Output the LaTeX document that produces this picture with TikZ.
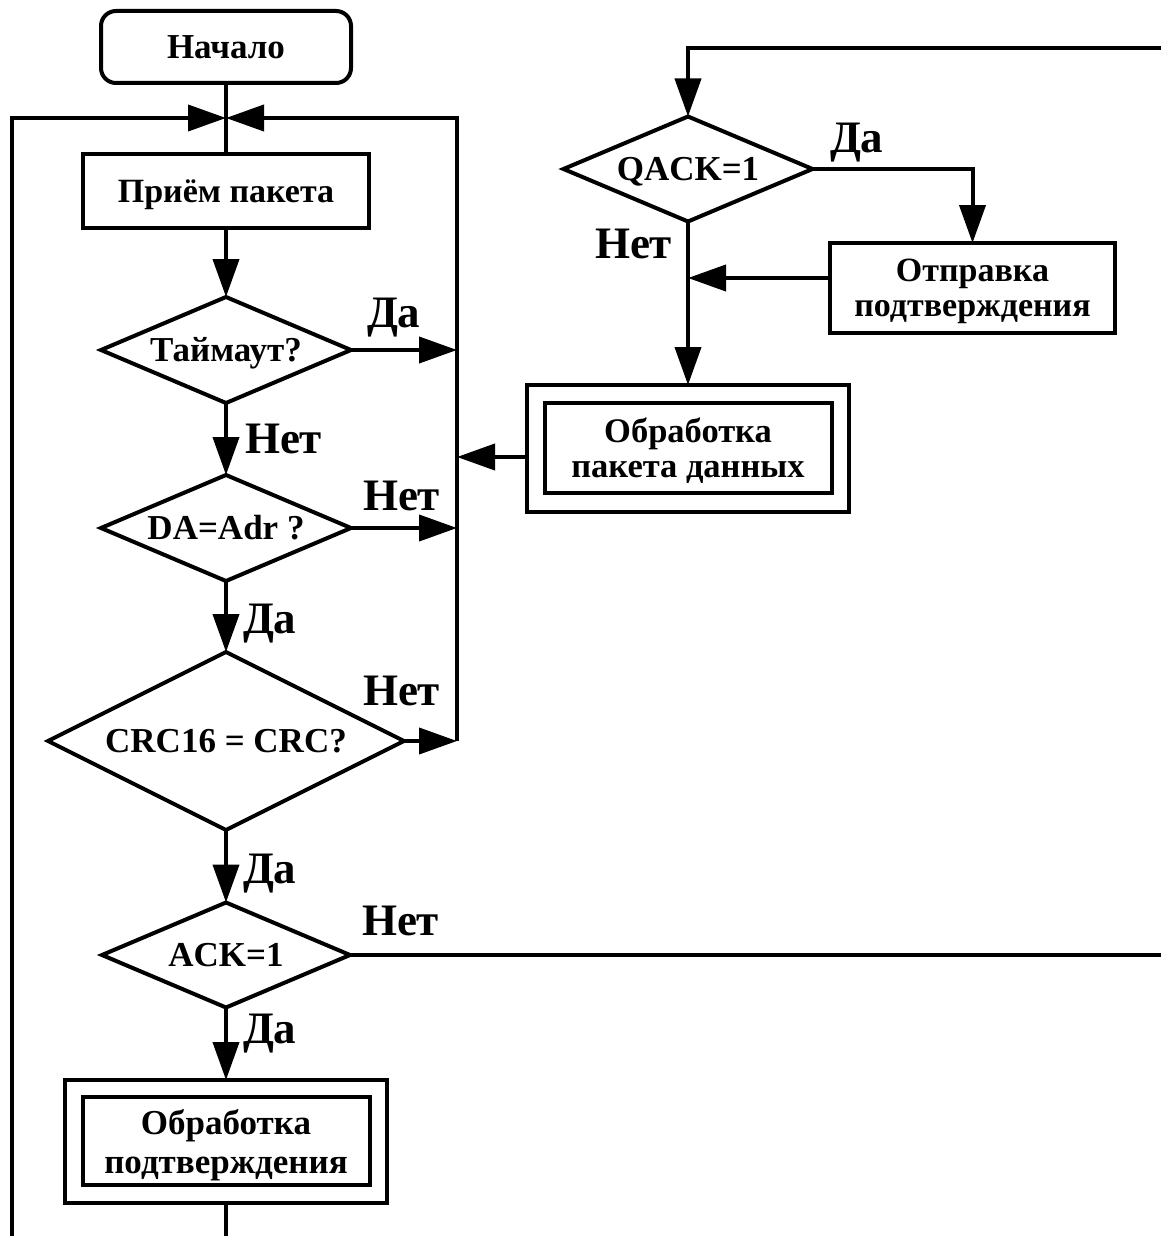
\documentclass[tikz,border=0pt]{standalone}
\usepackage{fontspec}
\setmainfont{Liberation Serif}
\usetikzlibrary{arrows.meta,shapes.geometric}
\begin{document}
\begin{tikzpicture}[x=1pt,y=-1pt,
  line width=4pt,
  every node/.style={inner sep=0pt,outer sep=0pt,font=\bfseries},
  blk/.style={draw,rectangle,align=center},
  dec/.style={draw,diamond,aspect=2.36,text height=23pt,text depth=0pt},
  fs/.style 2 args={font=\bfseries\fontsize{#1}{#2}\selectfont},
  lbl/.style={anchor=base west,font=\bfseries\fontsize{45}{50}\selectfont},
  arr/.style={-{Triangle[length=38pt,width=26pt]}}]
\useasboundingbox (0,0) rectangle (1161,1236);

% main column
\node[blk,rounded corners=15pt,minimum width=250pt,minimum height=72pt,fs={35}{40},text height=23pt,text depth=0pt] (start) at (226,47) {Начало};
\coordinate (merge) at (226,118);
\coordinate (loopL) at (12,118);
\coordinate (loopR) at (457,118);
\coordinate (loopLbot) at (12,1236);
\node[blk,minimum width=286pt,minimum height=74pt,fs={34}{38},text height=22.5pt,text depth=0pt] (recv) at (226,191) {Приём пакета};
\node[dec,minimum width=250pt,minimum height=106pt,fs={35}{40}] (tmo) at (226,350) {Таймаут?};
\node[dec,minimum width=250pt,minimum height=106pt,fs={35}{40}] (da) at (226,528) {DA=Adr ?};
\node[dec,aspect=2,minimum width=356pt,minimum height=178pt,fs={35}{40}] (crc) at (226,741) {CRC16 = CRC?};
\node[dec,minimum width=248pt,minimum height=105pt,fs={35}{40}] (ack) at (226,955) {ACK=1};
\node[blk,minimum width=322pt,minimum height=123pt] (ackproc) at (226,1141.5) {};
\node[blk,minimum width=287pt,minimum height=88pt,fs={35}{39},text depth=0pt] (ackprocin) at (226,1141) {Обработка\\подтверждения};
\coordinate (ackout) at (226,1236);

% right branch
\coordinate (qin) at (1161,48);
\node[dec,minimum width=249pt,minimum height=105pt,fs={35}{40}] (qack) at (688,169) {QACK=1};
\node[blk,minimum width=285pt,minimum height=90pt,fs={34}{35},text depth=0pt] (send) at (972.5,288) {Отправка\\подтверждения};
\node[blk,minimum width=322pt,minimum height=127pt] (dproc) at (688,448.5) {};
\node[blk,minimum width=287pt,minimum height=90pt,fs={34.5}{35},text depth=0pt] (dprocin) at (688,448) {Обработка\\пакета данных};
\coordinate (ackno) at (1161,955);

% connectors of the main column
\draw (start.south) -- (recv.north);
\draw[arr] (loopLbot) -- (loopL) -- (merge);
\draw[arr] (crc.east -| loopR) -- (loopR) -- (merge);
\draw[arr] (recv.south) -- (tmo.north);
\draw[arr] (tmo.east) -- (tmo.east -| loopR);
\draw[arr] (tmo.south) -- (da.north);
\draw[arr] (da.east) -- (da.east -| loopR);
\draw[arr] (da.south) -- (crc.north);
\draw[arr] (crc.east) -- (crc.east -| loopR);
\draw[arr] (crc.south) -- (ack.north);
\draw (ack.east) -- (ackno);
\draw[arr] (ack.south) -- (ackproc.north);
\draw (ackproc.south) -- (ackout);

% connectors of the right branch
\draw[arr] (qin) -- (qin -| qack.north) -- (qack.north);
\draw[arr] (qack.east) -- (qack.east -| send.north) -- (send.north);
\draw[arr] (send.west |- 0,278) -- (qack.south |- 0,278);
\draw[arr] (qack.south) -- (dproc.north);
\draw[arr] (dproc.west |- 0,457) -- (loopR |- 0,457);

% branch labels
\node[lbl] (l1) at (367,327) {Да};
\node[lbl] (l2) at (245,453) {Нет};
\node[lbl] (l3) at (363,510) {Нет};
\node[lbl] (l4) at (243,633) {Да};
\node[lbl] (l5) at (363,705) {Нет};
\node[lbl] (l6) at (243,883) {Да};
\node[lbl] (l7) at (362,935) {Нет};
\node[lbl] (l8) at (243,1043) {Да};
\node[lbl] (l9) at (830,153) {Да};
\node[lbl] (l10) at (595,258) {Нет};
\end{tikzpicture}
\end{document}
